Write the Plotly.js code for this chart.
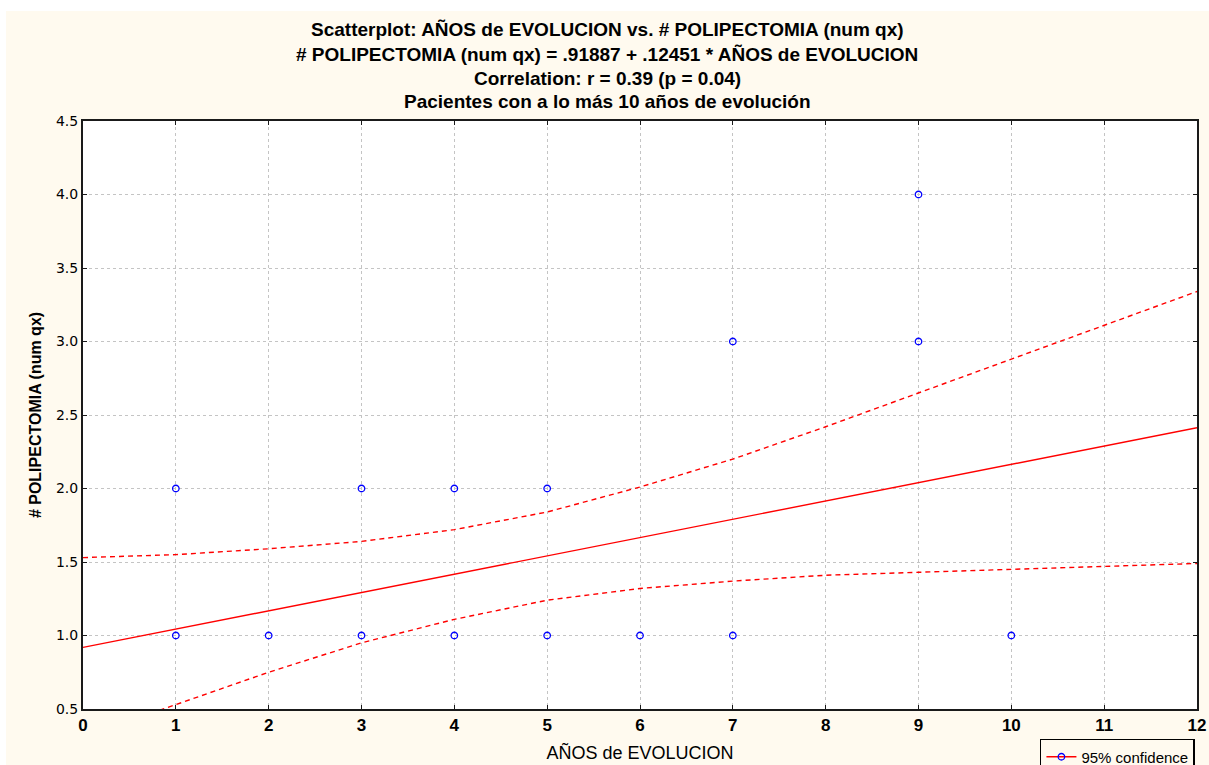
<!DOCTYPE html>
<html>
<head>
<meta charset="utf-8">
<script src="https://cdn.plot.ly/plotly-3.0.1.min.js"></script>
<style>
  html, body { margin: 0; padding: 0; background: #ffffff; }
  #chart { position: absolute; left: 6px; top: 11px; width: 1203px; height: 754px; }
</style>
</head>
<body>
<div id="chart"></div>
<script>
// Observed data points (AÑOS de EVOLUCION, # POLIPECTOMIA)
const yearsEvolution = [1, 1, 2, 3, 3, 4, 4, 5, 5, 6, 7, 7, 9, 9, 10];
const polypectomies  = [2, 1, 1, 2, 1, 2, 1, 2, 1, 1, 3, 1, 4, 3, 1];

// Regression line endpoints: .91887 + .12451 * x
const fitX = [0, 12];
const fitY = [0.919, 2.413];

// 95% confidence bands
const bandX     = [0, 1, 2, 3, 4, 5, 6, 7, 8, 9, 10, 11, 12];
const bandUpper = [1.53, 1.55, 1.59, 1.64, 1.72, 1.84, 2.01, 2.20, 2.42, 2.65, 2.88, 3.11, 3.34];
const bandLower = [0.31, 0.53, 0.75, 0.95, 1.11, 1.24, 1.32, 1.37, 1.41, 1.43, 1.45, 1.47, 1.49];

const titleLines = [
  "Scatterplot: AÑOS de EVOLUCION vs. # POLIPECTOMIA (num qx)",
  "# POLIPECTOMIA (num qx) = .91887 + .12451 * AÑOS de EVOLUCION",
  "Correlation: r = 0.39 (p = 0.04)",
  "Pacientes con a lo más 10 años de evolución"
];
const xTickVals = [0,1,2,3,4,5,6,7,8,9,10,11,12];
const yTickVals = [0.5,1.0,1.5,2.0,2.5,3.0,3.5,4.0,4.5];

const red = "#ff0000";
const blue = "#0000ff";
const cream = "#fffaef";
const sans = "Liberation Sans, Arial, sans-serif";

const traces = [
  { x: bandX, y: bandUpper, mode: "lines", line: {color: red, width: 1.4, dash: "5px,4px"}, showlegend: false, hoverinfo: "skip" },
  { x: bandX, y: bandLower, mode: "lines", line: {color: red, width: 1.4, dash: "5px,4px"}, showlegend: false, hoverinfo: "skip" },
  { x: fitX, y: fitY, mode: "lines", line: {color: red, width: 1.4}, showlegend: false },
  { x: yearsEvolution, y: polypectomies, mode: "markers",
    marker: {symbol: "circle-open", size: 6.5, color: blue, line: {width: 1.3, color: blue}}, showlegend: false },
  { x: [null], y: [null], mode: "lines+markers", name: "95% confidence",
    line: {color: red, width: 1.4}, marker: {symbol: "circle-open", size: 6.5, color: blue, line: {width: 1.3, color: blue}} }
];

const titleY = [1.1548, 1.1139, 1.0731, 1.0340];
const annotations = titleLines.map((t, i) => ({
  text: t, xref: "paper", yref: "paper", x: 0.4705, y: titleY[i],
  xanchor: "center", yanchor: "middle", showarrow: false,
  font: {family: sans, size: 19, color: "#000", weight: "bold"}
}));

const layout = {
  width: 1203, height: 754,
  paper_bgcolor: cream, plot_bgcolor: "#ffffff",
  margin: {l: 77, r: 12, t: 110, b: 56, autoexpand: false},
  annotations: annotations,
  showlegend: true,
  legend: {x: 0.859, y: -0.051, xanchor: "left", yanchor: "top",
    bgcolor: cream, bordercolor: "#000", borderwidth: 1.5,
    font: {family: sans, size: 15, color: "#000"}},
  xaxis: {
    range: [0, 12], tickvals: xTickVals, ticktext: xTickVals.map(String),
    showgrid: true, gridcolor: "#c4c4c4", griddash: "dot", gridwidth: 1,
    zeroline: false, showline: true, linecolor: "#1a1a1a", linewidth: 2, mirror: "allticks",
    ticks: "inside", ticklen: 4, tickcolor: "#1a1a1a",
    tickfont: {family: sans, size: 17, color: "#000", weight: "bold"},
    title: {text: "AÑOS de EVOLUCION", standoff: 12,
      font: {family: sans, size: 18, color: "#000"}}
  },
  yaxis: {
    range: [0.5, 4.5], tickvals: yTickVals, ticktext: yTickVals.map(v => v.toFixed(1)),
    showgrid: true, gridcolor: "#c4c4c4", griddash: "dot", gridwidth: 1,
    zeroline: false, showline: true, linecolor: "#1a1a1a", linewidth: 2, mirror: "allticks",
    ticks: "inside", ticklen: 4, tickcolor: "#1a1a1a",
    tickfont: {family: "DejaVu Sans, Verdana, sans-serif", size: 14, color: "#000"},
    title: {text: "# POLIPECTOMIA (num qx)", standoff: 10,
      font: {family: "Liberation Sans Narrow, Arial Narrow, sans-serif", size: 16, color: "#000", weight: "bold"}}
  }
};

Plotly.newPlot("chart", traces, layout, {displayModeBar: false, staticPlot: true});
</script>
</body>
</html>
